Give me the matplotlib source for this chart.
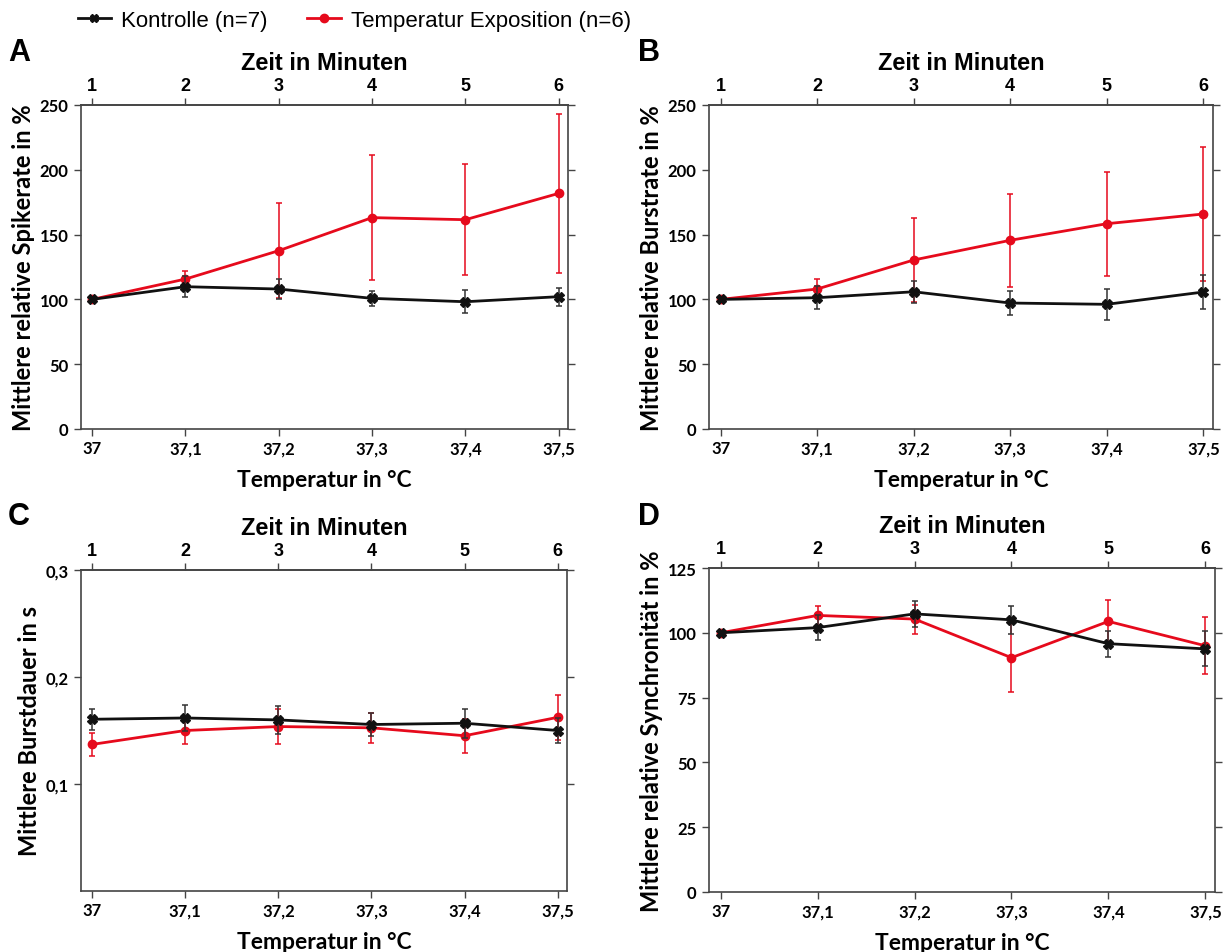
import matplotlib
matplotlib.use("Agg")
import matplotlib.pyplot as plt
from matplotlib.lines import Line2D

# ---------------- data ----------------
temperatures = [37.0, 37.1, 37.2, 37.3, 37.4, 37.5]
minutes = [1, 2, 3, 4, 5, 6]
temp_labels = ["37", "37,1", "37,2", "37,3", "37,4", "37,5"]

# Panel A: spike rate (%)
spike_ctrl = [100, 109.8, 108.0, 100.8, 98.2, 102.1]
spike_ctrl_err = [0, 8, 8, 6, 9, 7]
spike_temp = [100, 115.7, 137.6, 163.1, 161.5, 181.8]
spike_temp_err = [0, 6, 36.6, 48, 43, 61.6]

# Panel B: burst rate (%)
burst_ctrl = [100, 101.3, 105.9, 97.2, 96.2, 105.7]
burst_ctrl_err = [0, 9, 8.5, 9.3, 12, 12.8]
burst_temp = [100, 108.0, 130.4, 145.6, 158.4, 165.9]
burst_temp_err = [0, 7.5, 32.5, 36, 40, 51.5]

# Panel C: burst duration (s)
dur_ctrl = [0.1605, 0.1617, 0.1599, 0.1556, 0.1568, 0.1500]
dur_ctrl_err = [0.010, 0.012, 0.013, 0.011, 0.0136, 0.012]
dur_temp = [0.1370, 0.1500, 0.1537, 0.1525, 0.1451, 0.1623]
dur_temp_err = [0.011, 0.013, 0.016, 0.014, 0.016, 0.021]

# Panel D: synchrony (%)
sync_ctrl = [100, 102.0, 107.3, 105.0, 95.8, 93.8]
sync_ctrl_err = [0, 4.8, 5.1, 5.4, 5.0, 6.8]
sync_temp = [100, 106.7, 105.3, 90.4, 104.4, 95.0]
sync_temp_err = [0, 3.5, 5.6, 13.4, 8.1, 11.0]

label_ctrl = "Kontrolle (n=7)"
label_temp = "Temperatur Exposition (n=6)"

RED = "#e60a1c"
BLACK = "#111111"
HUM = "Lato"
ARIAL = "Liberation Sans"

fig = plt.figure(figsize=(12.3, 9.53), dpi=100)

W, H = 1230, 953
def rect(l, r, t, b):
    return [l / W, 1 - b / H, (r - l) / W, (b - t) / H]

panels = [
    dict(rect=rect(81, 568, 106, 430), letter="A", lx=8, ly=53,
         ctrl=spike_ctrl, ce=spike_ctrl_err, temp=spike_temp, te=spike_temp_err,
         ylim=(0, 250), yticks=[0, 50, 100, 150, 200, 250],
         ylabels=["0", "50", "100", "150", "200", "250"],
         ylabel="Mittlere relative Spikerate in %"),
    dict(rect=rect(709, 1213, 106, 430), letter="B", lx=638, ly=53,
         ctrl=burst_ctrl, ce=burst_ctrl_err, temp=burst_temp, te=burst_temp_err,
         ylim=(0, 250), yticks=[0, 50, 100, 150, 200, 250],
         ylabels=["0", "50", "100", "150", "200", "250"],
         ylabel="Mittlere relative Burstrate in %"),
    dict(rect=rect(81, 567, 571, 892), letter="C", lx=8, ly=517,
         ctrl=dur_ctrl, ce=dur_ctrl_err, temp=dur_temp, te=dur_temp_err,
         ylim=(0, 0.3), yticks=[0.1, 0.2, 0.3],
         ylabels=["0,1", "0,2", "0,3"],
         ylabel="Mittlere Burstdauer in s"),
    dict(rect=rect(709, 1215, 569, 893), letter="D", lx=638, ly=517,
         ctrl=sync_ctrl, ce=sync_ctrl_err, temp=sync_temp, te=sync_temp_err,
         ylim=(0, 125), yticks=[0, 25, 50, 75, 100, 125],
         ylabels=["0", "25", "50", "75", "100", "125"],
         ylabel="Mittlere relative Synchronität in %"),
]

for p in panels:
    ax = fig.add_axes(p["rect"])
    ax.errorbar(temperatures, p["ctrl"], yerr=p["ce"], color=BLACK, lw=2,
                marker="X", markersize=7, capsize=2.5, elinewidth=1.1,
                capthick=1.1, ecolor="#333333", zorder=3)
    ax.errorbar(temperatures, p["temp"], yerr=p["te"], color=RED, lw=2,
                marker="o", markersize=6, capsize=2.5, elinewidth=1.1,
                capthick=1.1, ecolor=RED, zorder=2)
    ax.set_xlim(36.988, 37.51)
    ax.set_ylim(*p["ylim"])
    ax.set_xticks(temperatures)
    ax.set_xticklabels(temp_labels, fontfamily=HUM, fontweight="bold", fontsize=12)
    ax.set_yticks(p["yticks"])
    ax.set_yticklabels(p["ylabels"], fontfamily=HUM, fontweight="bold", fontsize=12)
    ax.tick_params(axis="both", direction="out", length=5, width=1, color="#444444",
                   right=True, pad=4)
    ax.tick_params(axis="x", pad=3)
    for s in ax.spines.values():
        s.set_color("#444444")
        s.set_linewidth(1.2)
    ax.set_xlabel("Temperatur in °C", fontfamily=HUM, fontweight="bold",
                  fontsize=16.5, labelpad=9)
    ax.set_ylabel(p["ylabel"], fontfamily=HUM, fontweight="bold", fontsize=17,
                  labelpad=3)

    sec = ax.secondary_xaxis("top", functions=(lambda t: (t - 37.0) * 10 + 1,
                                               lambda m: (m - 1) / 10 + 37.0))
    sec.set_xticks(minutes)
    sec.set_xticklabels([str(m) for m in minutes], fontfamily=ARIAL,
                        fontweight="bold", fontsize=13)
    sec.tick_params(direction="out", length=5, width=1, color="#444444", pad=3)
    sec.spines["top"].set_color("#444444")
    sec.spines["top"].set_linewidth(1.2)
    sec.set_xlabel("Zeit in Minuten", fontfamily=ARIAL, fontweight="bold",
                   fontsize=17, labelpad=6)

    fig.text(p["lx"] / W, 1 - p["ly"] / H, p["letter"], fontfamily=ARIAL,
             fontweight="bold", fontsize=22, va="center", ha="left")

# legend
handles = [
    Line2D([], [], color=BLACK, lw=2, marker="X", markersize=6),
    Line2D([], [], color=RED, lw=2, marker="o", markersize=6),
]
fig.legend(handles, [label_ctrl, label_temp], loc="center left",
           bbox_to_anchor=(62 / W, 1 - 21 / H), ncol=2, frameon=False,
           prop={"family": ARIAL, "size": 16}, handlelength=1.5,
           handletextpad=0.45, columnspacing=1.8, borderpad=0.2)

fig.savefig("out.png", dpi=100)
